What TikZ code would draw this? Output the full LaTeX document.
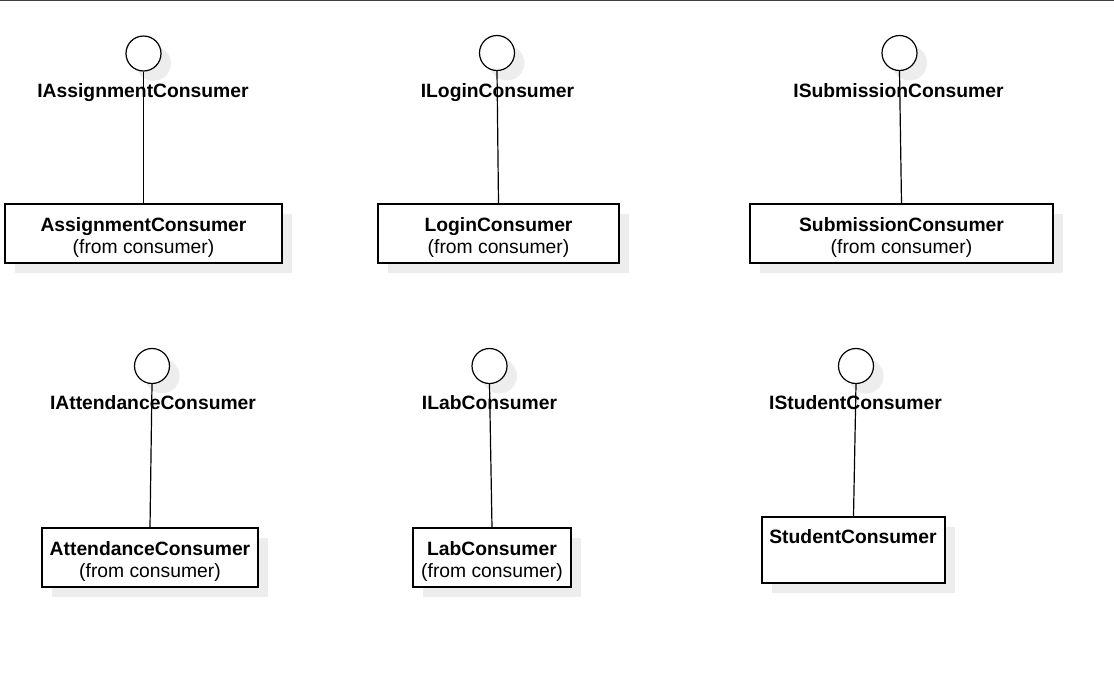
\documentclass[tikz,border=0pt]{standalone}
\usepackage{fontspec}
\setmainfont{Liberation Sans}
\usetikzlibrary{shadows}
\newcommand\dfont{\fontsize{19.3}{22}\selectfont}
\begin{document}
\begin{tikzpicture}[x=1pt,y=-1pt,
  shadowed/.style={drop shadow={shadow xshift=10pt,shadow yshift=-10pt,fill=black!7,opacity=1}},
  iface/.style={circle,draw,line width=1.2pt,fill=white,minimum size=35,inner sep=0pt,shadowed},
  cls/.style={draw,line width=1.2pt,fill=white,inner sep=0pt,shadowed},
  ilabel/.style={font=\dfont\bfseries,anchor=base,inner sep=0pt},
  ctitle/.style={font=\dfont\bfseries,anchor=base,inner sep=0pt},
  csub/.style={font=\dfont,anchor=base,inner sep=0pt},
  link/.style={line width=1.2pt}]
\useasboundingbox (0,0) rectangle (1114,675);
\draw[line width=1.5pt,black!75] (0,0.5) -- (1114,0.5);

% classes
\node[cls,minimum width=277,minimum height=59] (b1) at (143.5,233.5) {};
\node[cls,minimum width=241,minimum height=59] (b2) at (498.5,233.5) {};
\node[cls,minimum width=303,minimum height=59] (b3) at (901.5,233.5) {};
\node[cls,minimum width=216,minimum height=59] (b4) at (150,557.5) {};
\node[cls,minimum width=158,minimum height=59] (b5) at (492,557.5) {};
\node[cls,minimum width=183,minimum height=66] (b6) at (853.5,550) {};

\node[ctitle] (t1) at (143.5,231) {AssignmentConsumer};
\node[csub] (s1) at (143.5,253) {(from consumer)};
\node[ctitle] (t2) at (498.5,231) {LoginConsumer};
\node[csub] (s2) at (498.5,253) {(from consumer)};
\node[ctitle] (t3) at (901.5,231) {SubmissionConsumer};
\node[csub] (s3) at (901.5,253) {(from consumer)};
\node[ctitle] (t4) at (150,555) {AttendanceConsumer};
\node[csub] (s4) at (150,577) {(from consumer)};
\node[ctitle] (t5) at (492,555) {LabConsumer};
\node[csub] (s5) at (492,577) {(from consumer)};
\node[ctitle] (t6) at (853,543) {StudentConsumer};

% interfaces
\node[iface] (c1) at (143.5,53.5) {};
\node[iface] (c2) at (497,53) {};
\node[iface] (c3) at (899.5,53) {};
\node[iface] (c4) at (152,366) {};
\node[iface] (c5) at (489.5,366) {};
\node[iface] (c6) at (856,366) {};

% interface labels
\node[ilabel] (l1) at (143,97) {IAssignmentConsumer};
\node[ilabel] (l2) at (497.5,97) {ILoginConsumer};
\node[ilabel] (l3) at (898.5,97) {ISubmissionConsumer};
\node[ilabel] (l4) at (153,409) {IAttendanceConsumer};
\node[ilabel] (l5) at (489.5,409) {ILabConsumer};
\node[ilabel] (l6) at (855.5,409) {IStudentConsumer};

% connectors
\draw[link] (c1.south) -- (b1.north);
\draw[link] (c2.south) -- (b2.north);
\draw[link] (c3.south) -- (b3.north);
\draw[link] (c4.south) -- (b4.north);
\draw[link] (c5.south) -- (b5.north);
\draw[link] (c6.south) -- (b6.north);
\end{tikzpicture}
\end{document}
